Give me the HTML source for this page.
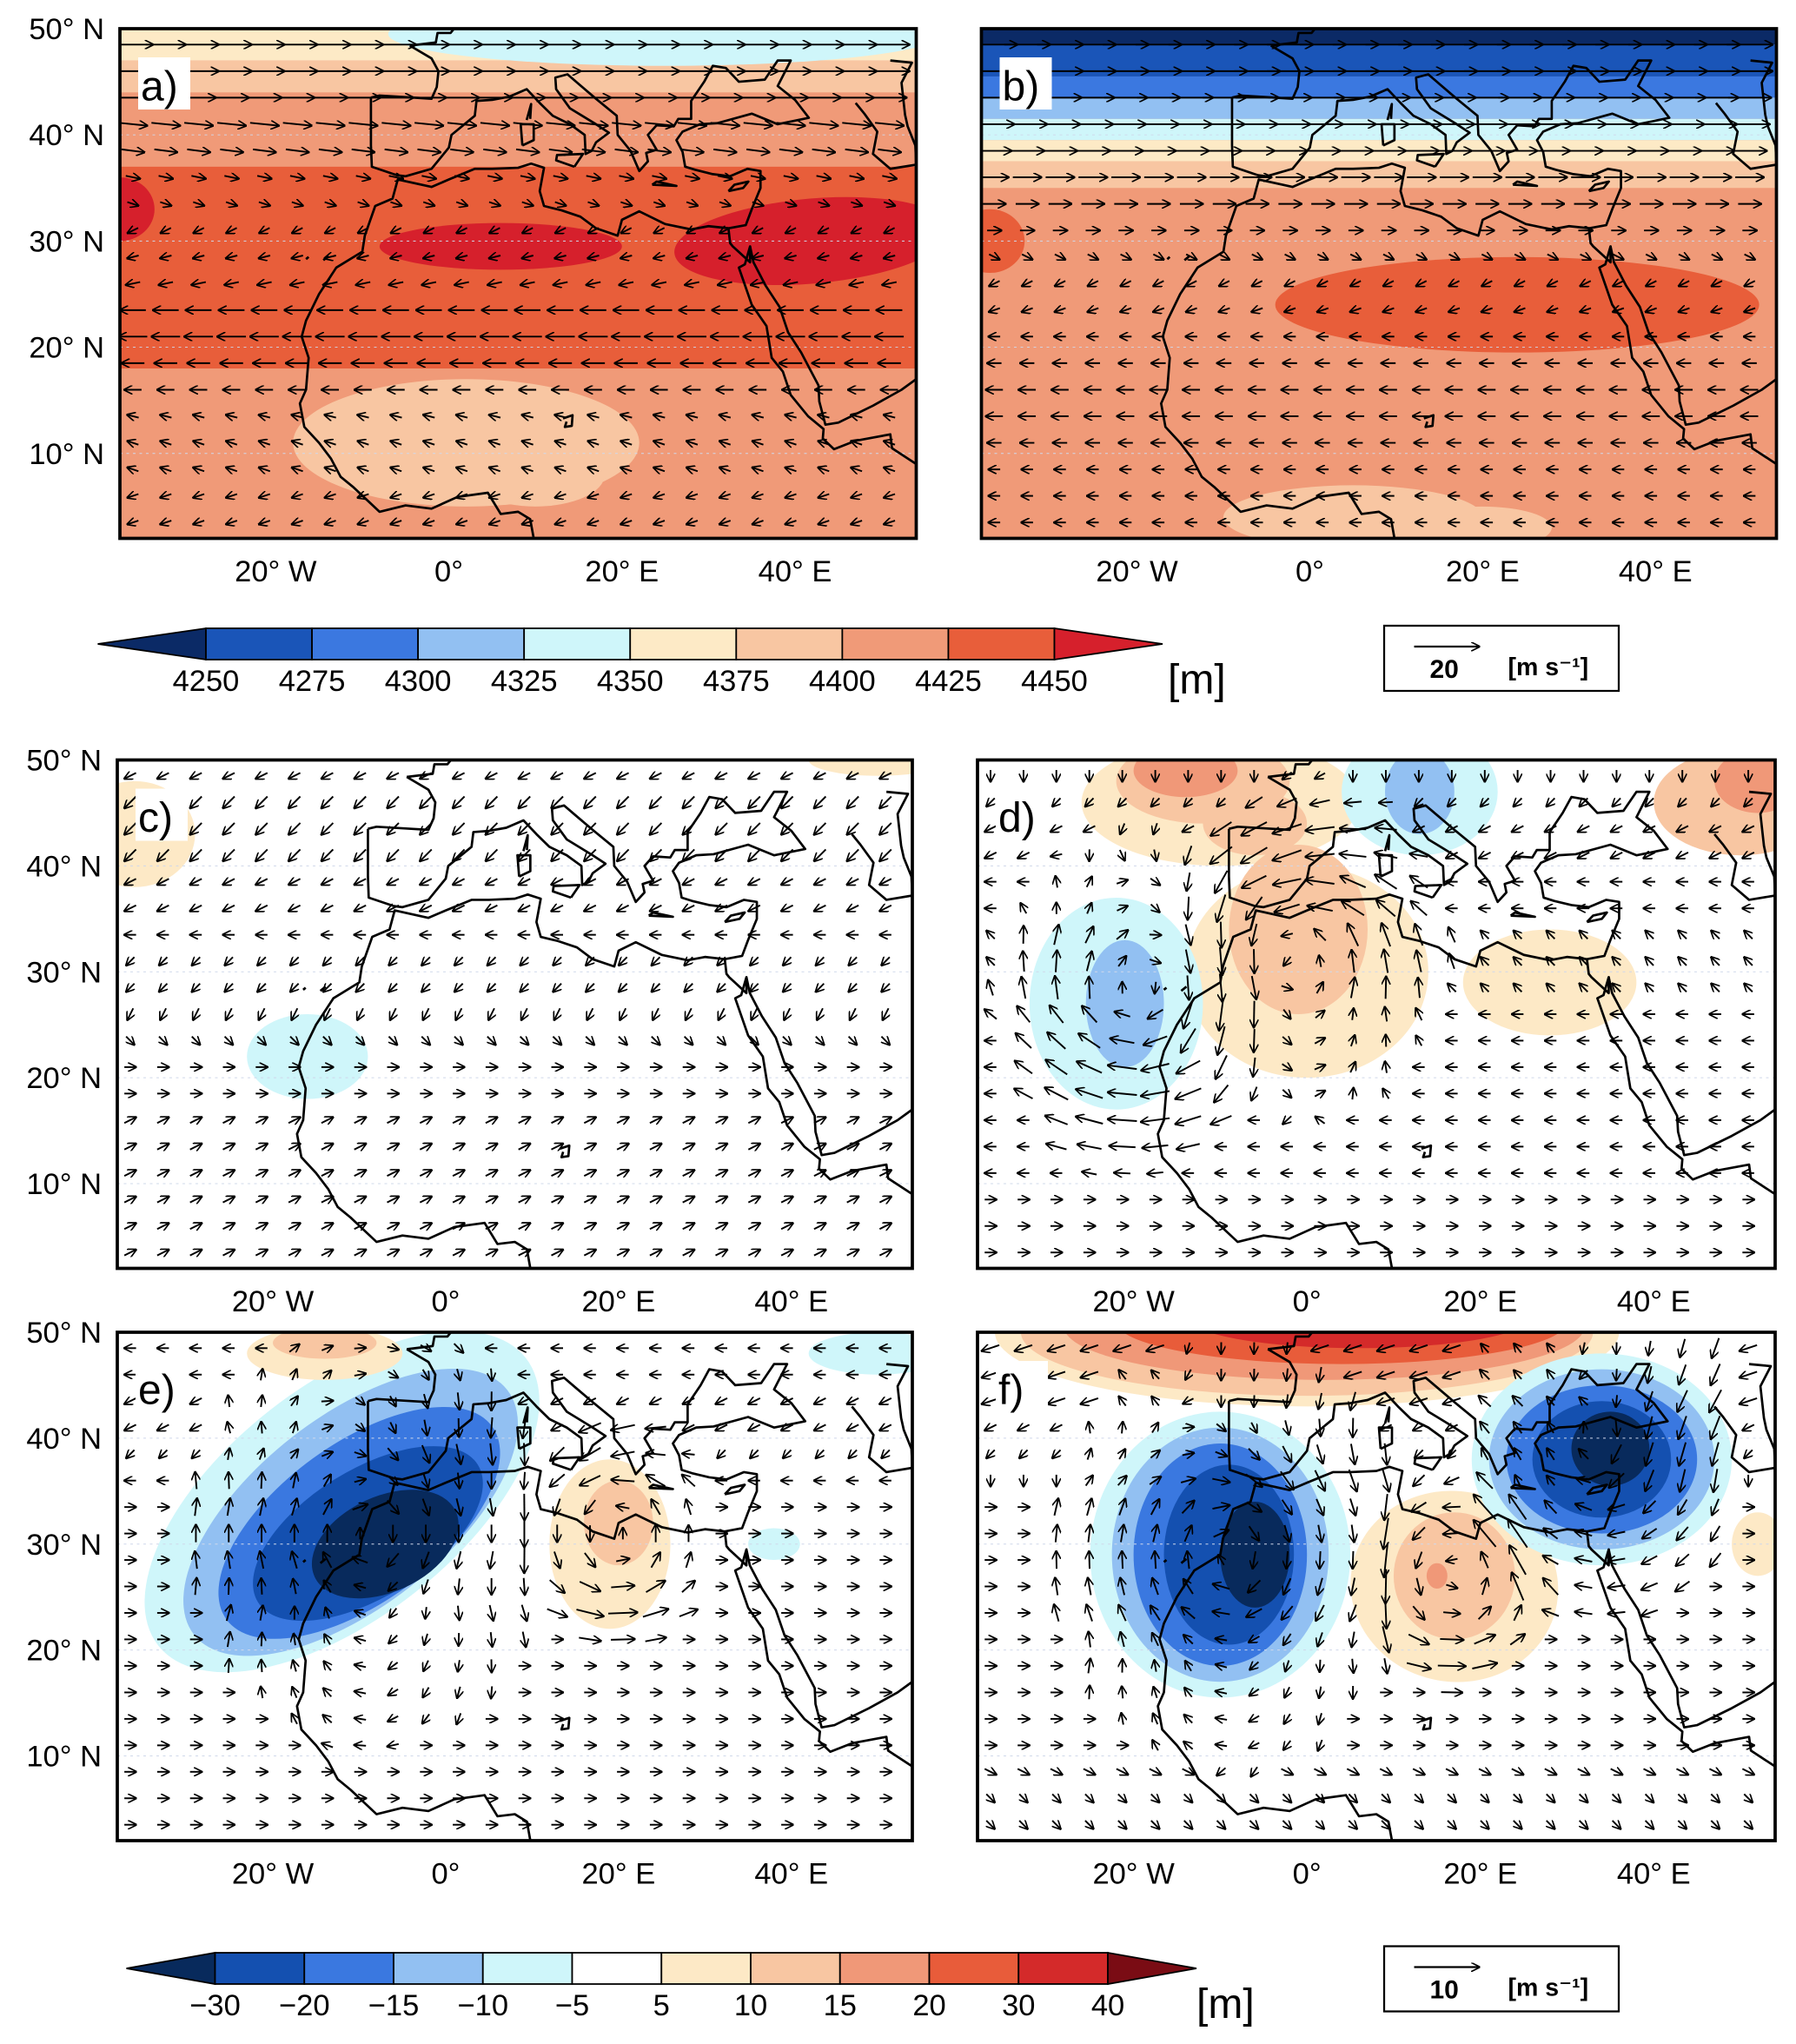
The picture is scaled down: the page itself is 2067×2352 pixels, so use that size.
<!DOCTYPE html>
<html><head><meta charset="utf-8"><style>
html,body{margin:0;padding:0;background:#fff}
svg{display:block}
text{font-family:"Liberation Sans","DejaVu Sans",sans-serif;fill:#000}
</style></head><body>
<svg id="fig" xmlns="http://www.w3.org/2000/svg" width="2067" height="2352" viewBox="0 0 1378 1568">
<defs>
<marker id="ah" viewBox="0 0 10 10" refX="9" refY="5" markerWidth="7" markerHeight="7" markerUnits="userSpaceOnUse" orient="auto"><path d="M0,0 L10,5 L0,10" fill="none" stroke="#000" stroke-width="1.6"/></marker>
</defs>
<g id="root"></g>
</svg>
<script>
// ---------- data ----------
const colors1 = ['#0b2a66','#1a55b8','#3b78e0','#92c0f2','#cff6fa','#fdeac6','#f8c6a2','#f09a78','#e85e3a','#d6202c'];
const ticks1 = ['4250','4275','4300','4325','4350','4375','4400','4425','4450'];
const colors2 = ['#082a5c','#1450b0','#3a78e0','#92c0f2','#cff6fa','#ffffff','#fde9c6','#f8c6a2','#f09878','#e85c3a','#d42a2a','#7a0c14'];
const ticks2 = ['\u221230','\u221220','\u221215','\u221210','\u22125','5','10','15','20','30','40'];
const latTicks = [50,40,30,20,10];
const lonTicks = [-20,0,20,40];
const lonTickLabels = ['20\u00b0 W','0\u00b0','20\u00b0 E','40\u00b0 E'];
// field shapes per panel: [lon, lat, rxDeg, ryDeg, colorIndex, rotationDeg]; bands: [latMin, latMax, colorIndex]
const bgA = 7, bandsA = [[47,51,5],[44,47,6],[18,37,8]];
const blobsA = [[25,49.5,32,3,4,0],[-38,33,4,3,9,0],[6,29.5,14,2.2,9,0],[42,30,16,4,9,-5],[2,11,20,6,6,0],[10,8,8,3,6,0]];
const bgB = 7, bandsB = [[48.5,51,0],[45.5,48.5,1],[43.5,45.5,2],[41.5,43.5,3],[39.5,41.5,4],[37.5,39.5,5],[35,37.5,6]];
const blobsB = [[-37,30,4,3,8,0],[24,24,28,4.5,8,0],[5,4,15,3,6,0],[20,3,8,2,6,0]];
const bgC = 5, bandsC = [];
const blobsC = [[-36,43,7,5,6,0],[-16,22,7,4,4,0],[50,50,8,1.5,6,0]];
const bgD = 5, bandsD = [];
const blobsD = [[-10,46,16,6,6,0],[-12,48,10,4,7,0],[-14,49,6,2.5,8,0],[-6,44,6,3,7,0],[0,30,14,10,6,0],[-1,34,8,8,7,0],[28,29,10,5,6,0],[13,47,9,6,4,0],[13,47,4,4,3,0],[50,46,10,5,7,0],[52,48,5,3,8,0],[-22,27,10,10,4,0],[-21,27,4.5,6,3,0]];
const bgE = 5, bandsE = [];
const blobsE = [[-12,34,27,11,4,-38],[-11,33,23,9,3,-38],[-10,32,19,7.5,2,-36],[-9,31,15,6,1,-32],[-7,30,9,4.5,0,-25],[-14,48,9,2.5,6,0],[-14,49,6,1.5,7,0],[19,30,7,8,6,0],[20,32,4,4,7,0],[38,30,3,1.5,4,0],[50,48,8,2,4,0]];
const bgF = 5, bandsF = [];
const blobsF = [[0,50,36,7,6,0],[0,50,33,6,7,0],[2,50.5,30,5,8,0],[4,51,26,4,9,0],[6,51.5,20,3,10,0],[10,51.5,7,1.5,11,0],[-10,29,15,13.5,4,0],[-10,29,12.5,12,3,0],[-10,29,10,10.5,2,0],[-9,29,7.5,8.5,1,0],[-6,29,4,5,0,0],[17,26,12,9,6,10],[17,27,7,6,7,0],[15,27,1.2,1.2,8,0],[34,38,15,10,4,0],[34,38,13,8.5,3,0],[34,38,11,7,2,0],[34,38,8,5.5,1,0],[35,39,4.5,3.5,0,0],[52,30,3,3,6,0]];
// wind: per latitude row (lats 48.5 down to 3.5) mean u and v, plus vortices [lon, lat, strength, radiusDeg]
const rowLats = [48.5,46,43.5,41,38.5,36,33.5,31,28.5,26,23.5,21,18.5,16,13.5,11,8.5,6,3.5];
const uA = [14,14,12,10,8,5,3,-2,-4,-5,-9,-10,-8,-6,-4,-3,-3,-3,-3];
const vA = [0,0,0,-1,-1,-1,-1,-1,-1,-1,0,0,0,0,1,1,1,-1,-1];
const uB = [16,16,15,14,12,10,8,5,2,-2,-3,-4,-5,-6,-6,-5,-4,-3,-3];
const vB = [0,0,0,0,0,0,0,0,-1,-1,-1,0,0,0,0,0,0,0,0];
const uC = [-2,-2,-2,-2,-2,-2,-2,-1,-1,-1,1,2,2,2,2,2,2,2,2];
const vC = [-1,-2,-2,-2,-1,-1,0,-1,-1,-2,-1,0,0,1,1,1,1,1,1];
const uD = [0,-1,-2,-2,-2,-2,-1,-1,-1,-2,-2,-2,-2,-2,-2,-1,1,2,2];
const vD = [-1,-1,-1,-1,0,0,1,1,1,0,0,0,0,0,0,0,0,0,0];
const uE = [-1,-2,-2,-2,-1,-1,0,0,0,1,2,2,2,2,2,1,0,0,0];
const vE = [0,0,-1,-1,-1,0,0,0,0,0,0,0,0,0,0,0,0,0,0];
const uF = [-3,-3,-3,-2,-1,0,0,0,0,0,0,1,2,2,2,2,2,1,1];
const vF = [-1,-1,-1,-1,-1,-1,0,0,0,0,0,0,0,0,0,0,-1,-1,-1];
const vortC = [];
const vortD = [[-20,27,-2,12],[0,32,2,12]];
const vortE = [[-9,31,-4,15],[20,31,2,8]];
const vortF = [[-9,29,-5,15],[34,39,-4,12],[17,27,2,8]];

const panels = [
 {id:'a',x:92,y:22,w:611,h:391,bg:bgA,bands:bandsA,blobs:blobsA,u:uA,v:vA,vort:[],pal:colors1,sc:2.2},
 {id:'b',x:753,y:22,w:610,h:391,bg:bgB,bands:bandsB,blobs:blobsB,u:uB,v:vB,vort:[],pal:colors1,sc:2.2},
 {id:'c',x:90,y:583,w:610,h:390,bg:bgC,bands:bandsC,blobs:blobsC,u:uC,v:vC,vort:vortC,pal:colors2,sc:4.5},
 {id:'d',x:750,y:583,w:612,h:390,bg:bgD,bands:bandsD,blobs:blobsD,u:uD,v:vD,vort:vortD,pal:colors2,sc:4.5},
 {id:'e',x:90,y:1022,w:610,h:390,bg:bgE,bands:bandsE,blobs:blobsE,u:uE,v:vE,vort:vortE,pal:colors2,sc:4.5},
 {id:'f',x:750,y:1022,w:612,h:390,bg:bgF,bands:bandsF,blobs:blobsF,u:uF,v:vF,vort:vortF,pal:colors2,sc:4.5}
];
const LON0=-38, LON1=54, LAT0=2, LAT1=50;
// rough coastlines (lon,lat)
const coasts = [
 [[-9,43.5],[-9,39],[-8.9,37],[-6,36.2],[-5,36.1],[-2,36.8],[0,38.8],[0.3,40],[3,41.8],[3.2,43.2],[5,43.3],[7,43.6],[9,44.3],[10.5,43],[12,41.8],[14,41],[15.7,40],[15.8,38.2],[16.5,38.5],[17,39.3],[18.5,40.2],[17,41],[14,42.5],[12.4,44.3],[12.3,45.4],[13.7,45.7],[15,44.8],[17,43.4],[19.4,41.8],[19.5,40],[21,38.5],[22,36.6],[23,37.5],[22.8,38.3],[24,38.6],[23,40],[24,40.9],[26,40.8],[26.5,41.5],[28,41.5],[28,43.2],[29.5,45],[30.5,46.5],[32,46.3],[33.5,45],[36.5,45.2],[38,47],[39.5,47],[38,44.6],[40,43.3],[41.6,41.6],[38,41],[35,42],[31,41.1],[29,41],[27,40.3],[26.3,39.5],[27,38.4],[27.3,37],[28.5,36.7],[30.5,36.3],[32.5,36.1],[34.5,36.8],[36,36.6],[36,35],[35,33],[34.3,31.5],[32.3,31.2],[30,31.4],[28,31.1],[25,31.6],[22,32.8],[20,32],[19.5,30.5],[17,31.2],[15.2,32.3],[13,32.9],[11,33.3],[10.5,34.7],[11,36.9],[9.5,37.3],[8,36.9],[5,36.8],[3,36.8],[0,35.8],[-2,35.1],[-5.9,35.8],[-6.5,34],[-8.5,33.3],[-9.7,30.5],[-10,29],[-13,27.5],[-15,25],[-16.5,22.5],[-17,21],[-16.2,19],[-16.5,16],[-17.2,14.7],[-16.7,12.5],[-15,11],[-13.6,9.5],[-12.5,7.8],[-11,6.8],[-8,4.5],[-5,5.1],[-2,4.8],[1,5.9],[4.5,6.3],[6,4.3],[8,4.5],[9.4,3.8],[9.8,2]],
 [[-4.5,48.4],[-2,47.2],[-1.2,46],[-1.4,44.5],[-2,43.4],[-4,43.5],[-8,43.7],[-9,43.5]],
 [[-4.5,48.4],[-1.5,48.7],[-1.3,49.6],[0.2,49.6],[1.5,50.9],[2.5,51]],
 [[32.3,31.2],[32.5,29.8],[32.8,29.5],[34.8,28],[34.8,29.5],[34.2,27.8],[33.5,27.5],[35,24],[36.7,22],[37.3,19],[38.6,17.7],[39.5,15.5],[41.5,13.5],[43.3,12.3],[43.2,11.4],[44.5,10.4],[47,11.2],[51,11.8],[51.2,10.5],[54,9]],
 [[34.8,29.5],[35.2,28],[36.6,25.8],[38.2,23.8],[39.2,21.4],[40.7,19.5],[42.7,16.4],[42.8,14.9],[43.5,12.7],[45,12.9],[49,14.5],[52.3,16],[54,17]],
 [[47,43],[48,42],[49.5,40.3],[49,38.2],[51,36.8],[54,37.2],[53.9,39],[53,40.8],[52.7,41.9],[52.3,44.9],[53.5,46.8],[51,47]],
 [[-14.5,28.2],[-13.9,28.6]], [[-16.5,28.3],[-16.2,28.5]], [[14.5,37.0],[15.5,38.2],[12.5,38.1],[12.4,37.6],[14.5,37]],
 [[8.5,39],[9.8,39.5],[9.8,41],[8.3,41],[8.5,39]], [[9,41.4],[9.5,42.9],[9.4,41.5]], [[23.5,35.3],[26.3,35.2],[24,35.6],[23.5,35.3]],
 [[32.3,34.7],[34,35],[34.6,35.6],[33,35.3],[32.3,34.7]],
 [[13.2,13.3],[14.3,13.6],[14.2,12.6],[13.4,12.5],[13.6,13]]
];

// ---------- drawing ----------
const NS='http://www.w3.org/2000/svg';
const root=document.getElementById('root');
function mk(tag,attrs,parent){const e=document.createElementNS(NS,tag);for(const k in attrs)e.setAttribute(k,attrs[k]);(parent||root).appendChild(e);return e;}
function xs(p,lon){return p.x+(lon-LON0)/(LON1-LON0)*p.w;}
function ys(p,lat){return p.y+(LAT1-lat)/(LAT1-LAT0)*p.h;}

panels.forEach((p,pi)=>{
  const g=mk('g',{});
  
  
  const cp=mk('clipPath',{id:'clip'+p.id},g);
  mk('rect',{x:p.x,y:p.y,width:p.w,height:p.h},cp);
  const fld=mk('g',{'clip-path':'url(#clip'+p.id+')'},g);
  
  
  mk('rect',{x:p.x,y:p.y,width:p.w,height:p.h,fill:p.pal[p.bg]},fld);
  p.bands.forEach(b=>{
    const r=mk('rect',{x:p.x,y:ys(p,b[1]),width:p.w,height:ys(p,b[0])-ys(p,b[1]),fill:p.pal[b[2]]},fld);
    
    
  });
  p.blobs.forEach(b=>{
    const cx=xs(p,b[0]),cy=ys(p,b[1]);
    const el=mk('ellipse',{cx:cx,cy:cy,rx:b[2]*p.w/(LON1-LON0),ry:b[3]*p.h/(LAT1-LAT0),fill:p.pal[b[4]],transform:'rotate('+b[5]+' '+cx+' '+cy+')'},fld);
    
    
  });
  [10,20,30,40].forEach(lat=>mk('line',{x1:p.x,x2:p.x+p.w,y1:ys(p,lat),y2:ys(p,lat),stroke:'#cfd8ea','stroke-width':0.6,'stroke-dasharray':'2 3'},fld));
  coasts.forEach(c=>{
    const d=c.map((q,i)=>(i?'L':'M')+xs(p,q[0]).toFixed(1)+','+ys(p,q[1]).toFixed(1)).join('');
    const el=mk('path',{d:d,fill:'none',stroke:'#000','stroke-width':1.8,'stroke-linejoin':'round'},fld);
    
    
  });
  const wg=mk('g',{},fld);
  
  
  rowLats.forEach((lat,ri)=>{
    for(let lon=-36.5;lon<54;lon+=3.8){
      let u=p.u[ri],v=p.v[ri];
      p.vort.forEach(vo=>{
        const dx=lon-vo[0],dy=lat-vo[1];const r=Math.sqrt(dx*dx+dy*dy);
        if(r<vo[3]*1.4){const w=vo[2]*Math.exp(-(r*r)/(vo[3]*vo[3]))*(r/(vo[3]*0.5+0.01));
          const f=Math.max(-1.5,Math.min(1.5,w));u+=-dy/(r+0.01)*f*2;v+=dx/(r+0.01)*f*2;}
      });
      let sp=Math.sqrt(u*u+v*v);if(sp<0.01){u=1;v=0;sp=1;}
      let L=Math.max(9,Math.min(p.sc*sp,70));
      const cx=xs(p,lon),cy=ys(p,lat);
      const ux=u/sp,uy=-v/sp;
      const a=mk('line',{x1:(cx-ux*L/2).toFixed(1),y1:(cy-uy*L/2).toFixed(1),x2:(cx+ux*L/2).toFixed(1),y2:(cy+uy*L/2).toFixed(1),stroke:'#000','stroke-width':1.3,'marker-end':'url(#ah)'},wg);
      
      
    }
  });
  mk('rect',{x:p.x,y:p.y,width:p.w,height:p.h,fill:'none',stroke:'#000','stroke-width':2.5},g);
  const lb=mk('rect',{x:p.x+14,y:p.y+22,width:40,height:40,fill:'#fff'},g);
  
  
  const lt=mk('text',{x:p.x+16,y:p.y+55,'font-size':32},g);lt.textContent=p.id+')';
  
  
  if(pi%2===0){
    latTicks.forEach(lat=>{
      const t=mk('text',{x:p.x-12,y:ys(p,lat)+8,'font-size':23,'text-anchor':'end'},g);t.textContent=lat+'\u00b0 N';
      
      
    });
  }
  lonTicks.forEach((lon,i)=>{
    const t=mk('text',{x:xs(p,lon),y:p.y+p.h+33,'font-size':23,'text-anchor':'middle'},g);t.textContent=lonTickLabels[i];
    
    
  });
});

function colorbar(x0,x1,tri,y,h,cols,labs,unitX,name){
  const g=mk('g',{});
  
  
  const n=cols.length-2;const bw=(x1-x0-2*tri)/n;const xa=x0+tri;
  mk('polygon',{points:`${x0},${y+h/2} ${xa},${y} ${xa},${y+h}`,fill:cols[0],stroke:'#000','stroke-width':1.2},g);
  for(let i=0;i<n;i++){
    const r=mk('rect',{x:xa+i*bw,y:y,width:bw,height:h,fill:cols[i+1],stroke:'#000','stroke-width':1.2},g);
    
    
  }
  const xb=xa+n*bw;
  mk('polygon',{points:`${xb},${y} ${x1},${y+h/2} ${xb},${y+h}`,fill:cols[cols.length-1],stroke:'#000','stroke-width':1.2},g);
  labs.forEach((l,i)=>{
    const t=mk('text',{x:xa+i*bw,y:y+h+24,'font-size':23,'text-anchor':'middle'},g);t.textContent=l;
    
    
  });
  const u=mk('text',{x:unitX,y:y+h+26,'font-size':32},g);u.textContent='[m]';
  
  
}
colorbar(75,892,83,482,24,colors1,ticks1,896,'colorbar-height');
colorbar(97,918,68,1498,24,colors2,ticks2,918,'colorbar-anomaly');

function vecLegend(y,label,name){
  const g=mk('g',{});
  
  
  mk('rect',{x:1062,y:y,width:180,height:50,fill:'#fff',stroke:'#000','stroke-width':1.5},g);
  mk('line',{x1:1085,y1:y+16,x2:1135,y2:y+16,stroke:'#000','stroke-width':1.5,'marker-end':'url(#ah)'},g);
  const t=mk('text',{x:1097,y:y+40,'font-size':20,'font-weight':'bold'},g);t.textContent=label;
  const t2=mk('text',{x:1157,y:y+38,'font-size':19,'font-weight':'bold'},g);t2.textContent='[m s\u207b\u00b9]';
}
vecLegend(480,'20','vector-legend-top');
vecLegend(1493,'10','vector-legend-bottom');
</script>
</body></html>
